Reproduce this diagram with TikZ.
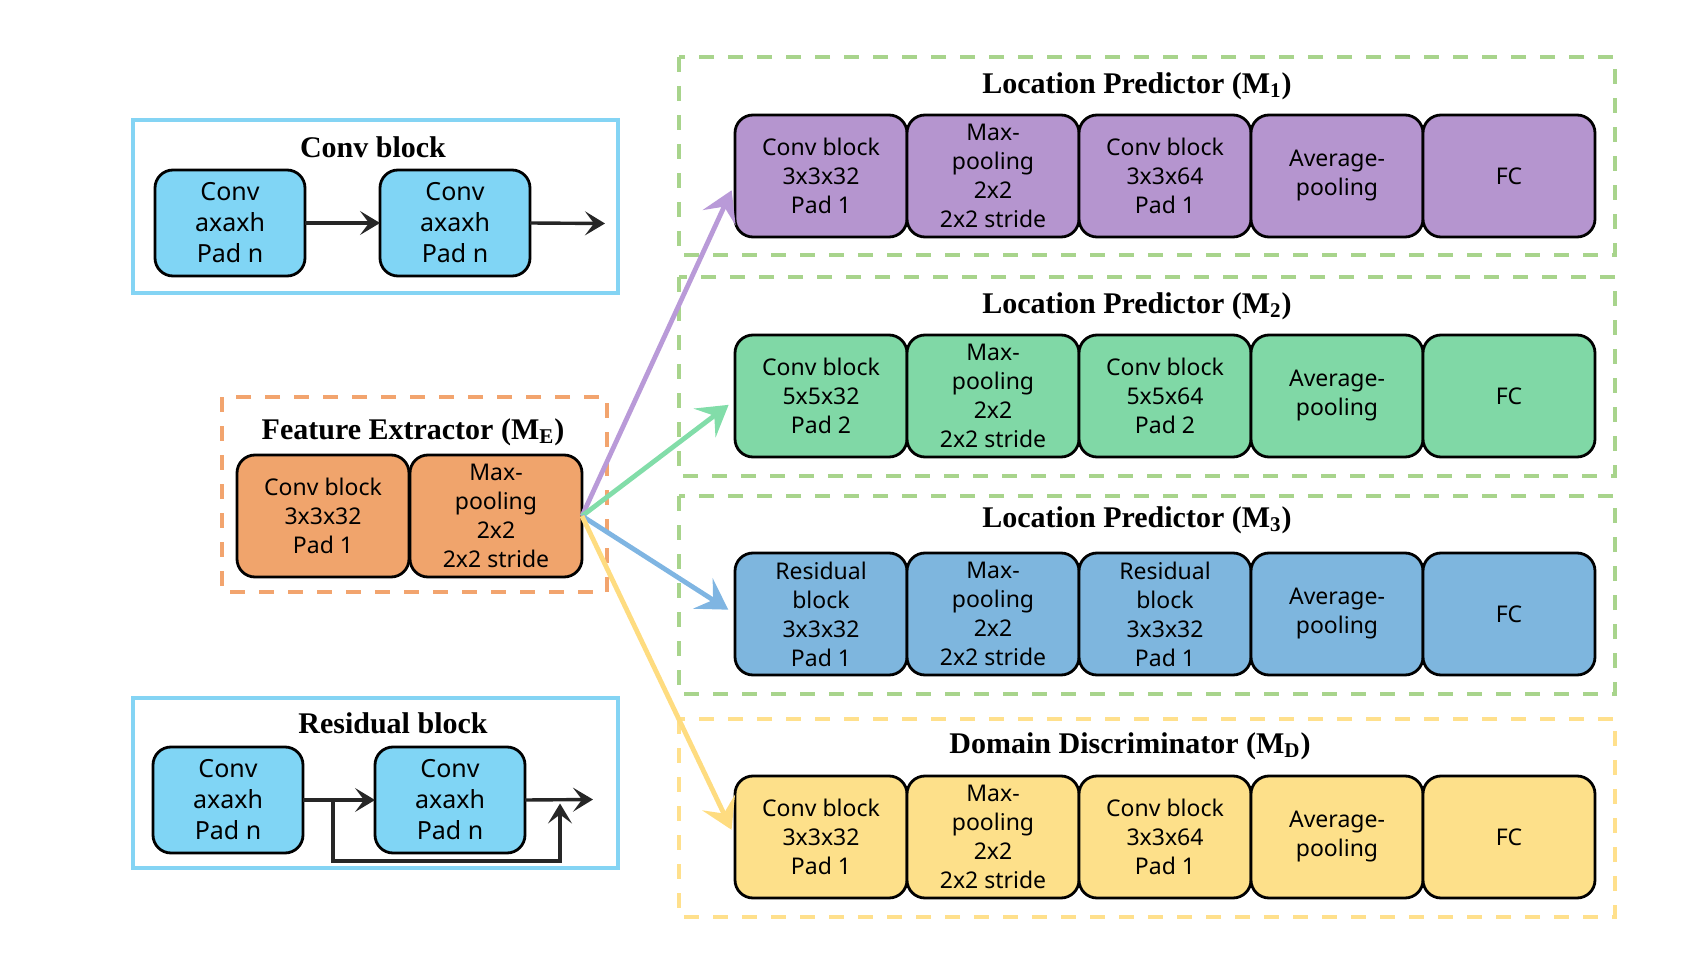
\documentclass[tikz,border=0pt]{standalone}
\usepackage{fontspec}
\setmainfont{Liberation Serif}
\newfontfamily\boxfont{Noto Sans}
\usetikzlibrary{arrows.meta,calc}

\definecolor{cbfill}{HTML}{80D5F5}
\definecolor{cbframe}{HTML}{84D4F4}
\definecolor{orfill}{HTML}{F0A46C}
\definecolor{ordash}{HTML}{F2A46E}
\definecolor{pufill}{HTML}{B595CF}
\definecolor{grfill}{HTML}{80D8A6}
\definecolor{blfill}{HTML}{7EB6DE}
\definecolor{yefill}{HTML}{FDE08A}
\definecolor{grdash}{HTML}{A8D48C}
\definecolor{yedash}{HTML}{FFE08C}
\definecolor{puarrow}{HTML}{B99AD8}
\definecolor{grarrow}{HTML}{82DDA9}
\definecolor{blarrow}{HTML}{7FB5E2}
\definecolor{yearrow}{HTML}{FEDC80}

\tikzset{
  blk/.style={draw=black, line width=1.4pt, rounded corners=9pt, inner sep=0pt, outer sep=0pt,
    anchor=north west, align=center, font=\boxfont\fontsize{11.5}{14.5}\selectfont,
    minimum width=86pt, minimum height=61pt},
  smallblk/.style={draw=black, fill=cbfill, line width=1.4pt, rounded corners=9pt, inner sep=0pt, outer sep=0pt,
    anchor=north west, align=center, font=\boxfont\fontsize{12.5}{15.5}\selectfont,
    minimum width=75pt, minimum height=53pt},
  ttl/.style={font=\bfseries\fontsize{15}{18}\selectfont, inner sep=0pt},
  solidframe/.style={draw=cbframe, line width=1.8pt},
  dashframe/.style={line width=1.8pt, dash pattern=on 7.5pt off 7pt},
  blackarrow/.style={draw=black!85, line width=1.7pt, -{Stealth[length=10pt,width=12pt,inset=4.5pt]}},
  colarrow/.style={line width=2.4pt, shorten >=4pt, -{Stealth[length=15pt,width=18pt,inset=6pt]}},
}

\begin{document}
\begin{tikzpicture}[x=0.5pt,y=-0.5pt]
\useasboundingbox (0,0) rectangle (1682,968);

% ---- Conv block panel ----
\draw[solidframe] (133,120) rectangle (618,293);
\node[ttl] (tconv) at (373,147) {Conv block};
\node[smallblk] (c1) at (155,170) {Conv\\axaxh\\Pad n};
\node[smallblk] (c2) at (380,170) {Conv\\axaxh\\Pad n};
\coordinate (cout) at (605,223.5);
\draw[blackarrow] (c1.east) -- (c2.west);
\draw[blackarrow] (c2.east) -- (cout);

% ---- Residual block panel ----
\draw[solidframe] (133,698) rectangle (618,868);
\node[ttl] (tres) at (393,723) {Residual block};
\node[smallblk] (r1) at (153,747) {Conv\\axaxh\\Pad n};
\node[smallblk] (r2) at (375,747) {Conv\\axaxh\\Pad n};
\coordinate (rout) at (593,799.5);
\coordinate (rsplit) at (333,799.5);
\coordinate (rjoin) at (560,799.5);
\draw[blackarrow] (r1.east) -- (r2.west);
\draw[blackarrow] (r2.east) -- (rout);
\draw[blackarrow] (rsplit) -- (333,861) -- (560,861) -- ($(rjoin)+(0,4)$);

% ---- Feature extractor ----
\draw[dashframe, draw=ordash] (222,397) rectangle (607,592);
\node[ttl] (tfe) at (413,432) {Feature Extractor (M\textsubscript{E})};
\node[blk, fill=orfill] (fe1) at (237,455) {Conv block\\3x3x32\\Pad 1};
\node[blk, fill=orfill] (fe2) at (410,455) {Max-\\pooling\\2x2\\2x2 stride};

% ---- Right frames ----
\draw[dashframe, draw=grdash] (679,57) rectangle (1615,255);
\draw[dashframe, draw=grdash] (679,277) rectangle (1615,476);
\draw[dashframe, draw=grdash] (679,496) rectangle (1615,694);
\draw[dashframe, draw=yedash] (679,719) rectangle (1615,917);

\node[ttl] (tm1) at (1137,86) {Location Predictor (M\textsubscript{1})};
\node[ttl] (tm2) at (1137,306) {Location Predictor (M\textsubscript{2})};
\node[ttl] (tm3) at (1137,520) {Location Predictor (M\textsubscript{3})};
\node[ttl] (tmd) at (1130,746) {Domain Discriminator (M\textsubscript{D})};

% M1
\node[blk, fill=pufill] (m11) at (735,115) {Conv block\\3x3x32\\Pad 1};
\node[blk, fill=pufill] (m12) at (907,115) {Max-\\pooling\\2x2\\2x2 stride};
\node[blk, fill=pufill] (m13) at (1079,115) {Conv block\\3x3x64\\Pad 1};
\node[blk, fill=pufill] (m14) at (1251,115) {Average-\\pooling};
\node[blk, fill=pufill] (m15) at (1423,115) {FC};
% M2
\node[blk, fill=grfill] (m21) at (735,335) {Conv block\\5x5x32\\Pad 2};
\node[blk, fill=grfill] (m22) at (907,335) {Max-\\pooling\\2x2\\2x2 stride};
\node[blk, fill=grfill] (m23) at (1079,335) {Conv block\\5x5x64\\Pad 2};
\node[blk, fill=grfill] (m24) at (1251,335) {Average-\\pooling};
\node[blk, fill=grfill] (m25) at (1423,335) {FC};
% M3
\node[blk, fill=blfill] (m31) at (735,553) {Residual\\block\\3x3x32\\Pad 1};
\node[blk, fill=blfill] (m32) at (907,553) {Max-\\pooling\\2x2\\2x2 stride};
\node[blk, fill=blfill] (m33) at (1079,553) {Residual\\block\\3x3x32\\Pad 1};
\node[blk, fill=blfill] (m34) at (1251,553) {Average-\\pooling};
\node[blk, fill=blfill] (m35) at (1423,553) {FC};
% MD
\node[blk, fill=yefill] (md1) at (735,776) {Conv block\\3x3x32\\Pad 1};
\node[blk, fill=yefill] (md2) at (907,776) {Max-\\pooling\\2x2\\2x2 stride};
\node[blk, fill=yefill] (md3) at (1079,776) {Conv block\\3x3x64\\Pad 1};
\node[blk, fill=yefill] (md4) at (1251,776) {Average-\\pooling};
\node[blk, fill=yefill] (md5) at (1423,776) {FC};

% ---- Colored arrows ----
\draw[colarrow, draw=puarrow, fill=puarrow] (fe2.east) -- ($(m11.west)+(0,7)$);
\draw[colarrow, draw=grarrow, fill=grarrow] (fe2.east) -- ($(m21.west)+(0,4)$);
\draw[colarrow, draw=blarrow, fill=blarrow] (fe2.east) -- (m31.west);
\draw[colarrow, draw=yearrow, fill=yearrow] (fe2.east) -- (md1.west);
\end{tikzpicture}
\end{document}
